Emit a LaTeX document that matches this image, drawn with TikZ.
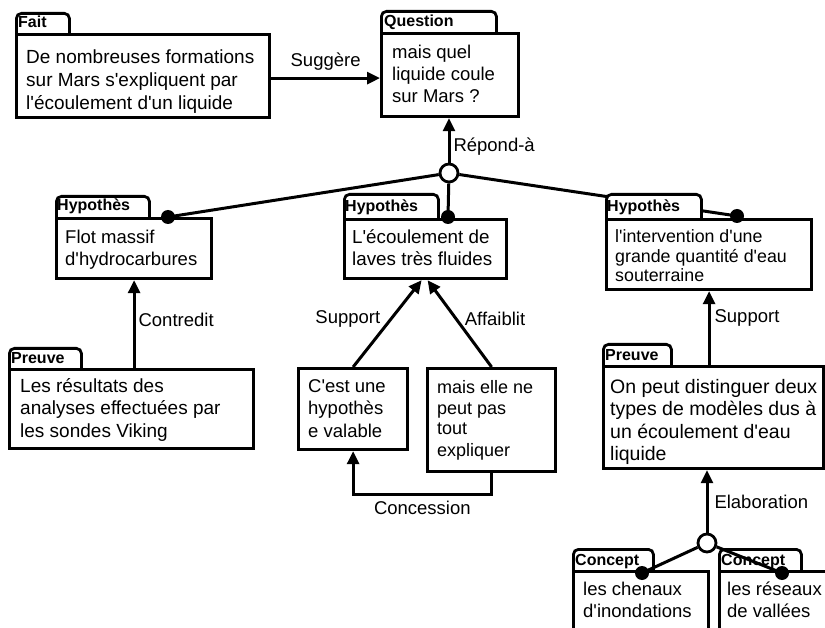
\documentclass[tikz,border=0pt]{standalone}
\usepackage{fontspec}
\newfontfamily\arialfont{Liberation Sans}
\usetikzlibrary{arrows.meta}
% one left-aligned block whose baseline is that of its first line
\newcommand\stack[1]{\begin{tabular}[t]{@{}l@{}}#1\end{tabular}}
\newcommand\fs[2]{\arialfont\fontsize{#1}{#2}\selectfont}
\tikzset{
  frame/.style={draw, line width=3.2pt, fill=white, rectangle, inner sep=0pt, anchor=north west},
  tabshape/.style={draw, line width=2.8pt, fill=white, rounded corners=5pt, inner sep=0pt, anchor=north west},
  tablabel/.style={anchor=base west, inner sep=0pt, font=\fs{16}{19}\bfseries},
  body/.style={anchor=base west, inner sep=0pt, font=\fs{18.5}{22}},
  link/.style={line width=3pt},
  arrow/.style={link, -{Triangle[length=13pt,width=12pt]}},
  hub/.style={circle, draw, line width=2.8pt, fill=white, minimum size=18pt, inner sep=0pt},
  knob/.style={circle, fill=black, minimum size=14pt, inner sep=0pt},
  rel/.style={inner sep=0pt, font=\fs{18.5}{22}},
}
\begin{document}
\begin{tikzpicture}[x=1pt, y=-1pt]
\useasboundingbox (0,0) rectangle (825,628);
\fill[white] (0,0) rectangle (825,628);
\clip (0,0) rectangle (825,628);

% junction points and the dots where the links meet the boxes
\node[hub] (repond) at (449,173) {};
\coordinate (k1) at (168,217);
\coordinate (k2) at (448,217);
\coordinate (k3) at (737,216);
\coordinate (k4) at (642,573);
\coordinate (k5) at (782,573);

% links from the answer junction (run under the tabs)
\draw[link] (repond) -- (k1);
\draw[link] (repond) -- (k2);
\draw[link] (repond) -- (k3);

% ---- Fait
\node[tabshape, minimum width=53, minimum height=32] (faitTab) at (15,12) {};
\node[frame, minimum width=253, minimum height=83] (fait) at (15,33) {};
\node[tablabel] (faitKind) at ([shift={(3,-5)}]fait.north west) {Fait};
\node[body, font=\fs{19}{23}] (faitText) at ([shift={(11,31)}]fait.north west)
  {\stack{De nombreuses formations\\sur Mars s'expliquent par\\l'écoulement d'un liquide}};

% ---- Question
\node[tabshape, minimum width=115, minimum height=32] (questionTab) at (380,10) {};
\node[frame, minimum width=137, minimum height=83] (question) at (380,32) {};
\node[tablabel] (questionKind) at ([shift={(4,-5)}]question.north west) {Question};
\node[body] (questionText) at ([shift={(12,27)}]question.north west)
  {\stack{mais quel\\liquide coule\\sur Mars ?}};

% ---- Hypothèse 1
\node[tabshape, minimum width=93, minimum height=32] (hypATab) at (55,195) {};
\node[frame, minimum width=155, minimum height=60] (hypA) at (55,217) {};
\node[tablabel] (hypAKind) at ([shift={(2,-6)}]hypA.north west) {Hypothès};
\node[body] (hypAText) at ([shift={(10,27)}]hypA.north west)
  {\stack{Flot massif\\d'hydrocarbures}};

% ---- Hypothèse 2
\node[tabshape, minimum width=94, minimum height=34] (hypBTab) at (343,193) {};
\node[frame, minimum width=162, minimum height=59] (hypB) at (343,218) {};
\node[tablabel] (hypBKind) at ([shift={(2,-6)}]hypB.north west) {Hypothès};
\node[body, font=\fs{18.8}{22}] (hypBText) at ([shift={(9,26)}]hypB.north west)
  {\stack{L'écoulement de\\laves très fluides}};

% ---- Hypothèse 3
\node[tabshape, minimum width=95, minimum height=34] (hypCTab) at (605,193) {};
\node[frame, minimum width=205, minimum height=70] (hypC) at (605,218) {};
\node[tablabel] (hypCKind) at ([shift={(2,-6)}]hypC.north west) {Hypothès};
\node[body, font=\fs{17.8}{19.5}] (hypCText) at ([shift={(10,25)}]hypC.north west)
  {\stack{l'intervention d'une\\grande quantité d'eau\\souterraine}};

% ---- Preuve 1
\node[tabshape, minimum width=72, minimum height=31] (preuveATab) at (8,347) {};
\node[frame, minimum width=244, minimum height=79] (preuveA) at (8,368) {};
\node[tablabel] (preuveAKind) at ([shift={(3,-5)}]preuveA.north west) {Preuve};
\node[body, font=\fs{19}{22.5}] (preuveAText) at ([shift={(12,24)}]preuveA.north west)
  {\stack{Les résultats des\\analyses effectuées par\\les sondes Viking}};

% ---- the two arguments
\node[frame, minimum width=109, minimum height=81] (cest) at (297,367) {};
\node[body, font=\fs{18.5}{22.5}] (cestText) at ([shift={(11,25)}]cest.north west)
  {\stack{C'est une\\hypothès\\e valable}};
\node[frame, minimum width=128, minimum height=103] (mais) at (426,367) {};
\node[body, font=\fs{18}{21}] (maisText) at ([shift={(11,26)}]mais.north west)
  {\stack{mais elle ne\\peut pas\\tout\\expliquer}};

% ---- Preuve 2
\node[tabshape, minimum width=68, minimum height=32] (preuveBTab) at (602,343) {};
\node[frame, minimum width=220, minimum height=102] (preuveB) at (602,365) {};
\node[tablabel] (preuveBKind) at ([shift={(3,-5)}]preuveB.north west) {Preuve};
\node[body, font=\fs{19.5}{22.5}] (preuveBText) at ([shift={(8,28)}]preuveB.north west)
  {\stack{On peut distinguer deux\\types de modèles dus à\\un écoulement d'eau\\liquide}};

% ---- Concepts
\node[tabshape, minimum width=80, minimum height=32] (conceptATab) at (572,548) {};
\node[frame, minimum width=135, minimum height=70] (conceptA) at (572,570) {};
\node[tablabel] (conceptAKind) at ([shift={(3,-5)}]conceptA.north west) {Concept};
\node[body] (conceptAText) at ([shift={(11,25)}]conceptA.north west)
  {\stack{les chenaux\\d'inondations}};
\node[tabshape, minimum width=82, minimum height=32] (conceptBTab) at (718,548) {};
\node[frame, minimum width=130, minimum height=70] (conceptB) at (718,570) {};
\node[tablabel] (conceptBKind) at ([shift={(3,-5)}]conceptB.north west) {Concept};
\node[body] (conceptBText) at ([shift={(9,25)}]conceptB.north west)
  {\stack{les réseaux\\de vallées}};

% ---- relations
\draw[arrow] ([yshift=-2pt]fait.east) -- node[rel, midway, above=6pt] {Suggère}
  ([yshift=-2pt]fait.east -| question.west);
\draw[arrow] (repond) -- node[rel, pos=0.35, anchor=west, xshift=3pt] {Répond-à}
  (repond |- question.south);
\draw[arrow] (hypA.south |- preuveA.north) -- node[rel, pos=0.55, anchor=west, xshift=3pt] {Contredit}
  (hypA.south);
\draw[arrow] (cest.north) -- node[rel, pos=0.55, anchor=east, xshift=-9pt] {Support}
  ([xshift=-4pt]hypB.south);
\draw[arrow] (mais.north) -- node[rel, pos=0.55, anchor=west, xshift=7pt] {Affaiblit}
  ([xshift=2pt]hypB.south);
\draw[arrow] (mais.south) -- ++(0,21)
  -| node[rel, pos=0.25, below=5pt] {Concession} (cest.south);
\draw[arrow] (hypC.south |- preuveB.north) -- node[rel, pos=0.64, anchor=west, xshift=4pt] {Support}
  (hypC.south);

% elaboration junction and its links (drawn over the concept tabs)
\node[hub] (elab) at (707,543) {};
\draw[arrow] (elab) -- node[rel, pos=0.5, anchor=west, xshift=6pt] {Elaboration}
  (elab |- preuveB.south);
\draw[link] (elab) -- (k4);
\draw[link] (elab) -- (k5);

% dots
\node[knob] (k1dot) at (k1) {};
\node[knob] (k2dot) at (k2) {};
\node[knob] (k3dot) at (k3) {};
\node[knob] (k4dot) at (k4) {};
\node[knob] (k5dot) at (k5) {};
\end{tikzpicture}
\end{document}
